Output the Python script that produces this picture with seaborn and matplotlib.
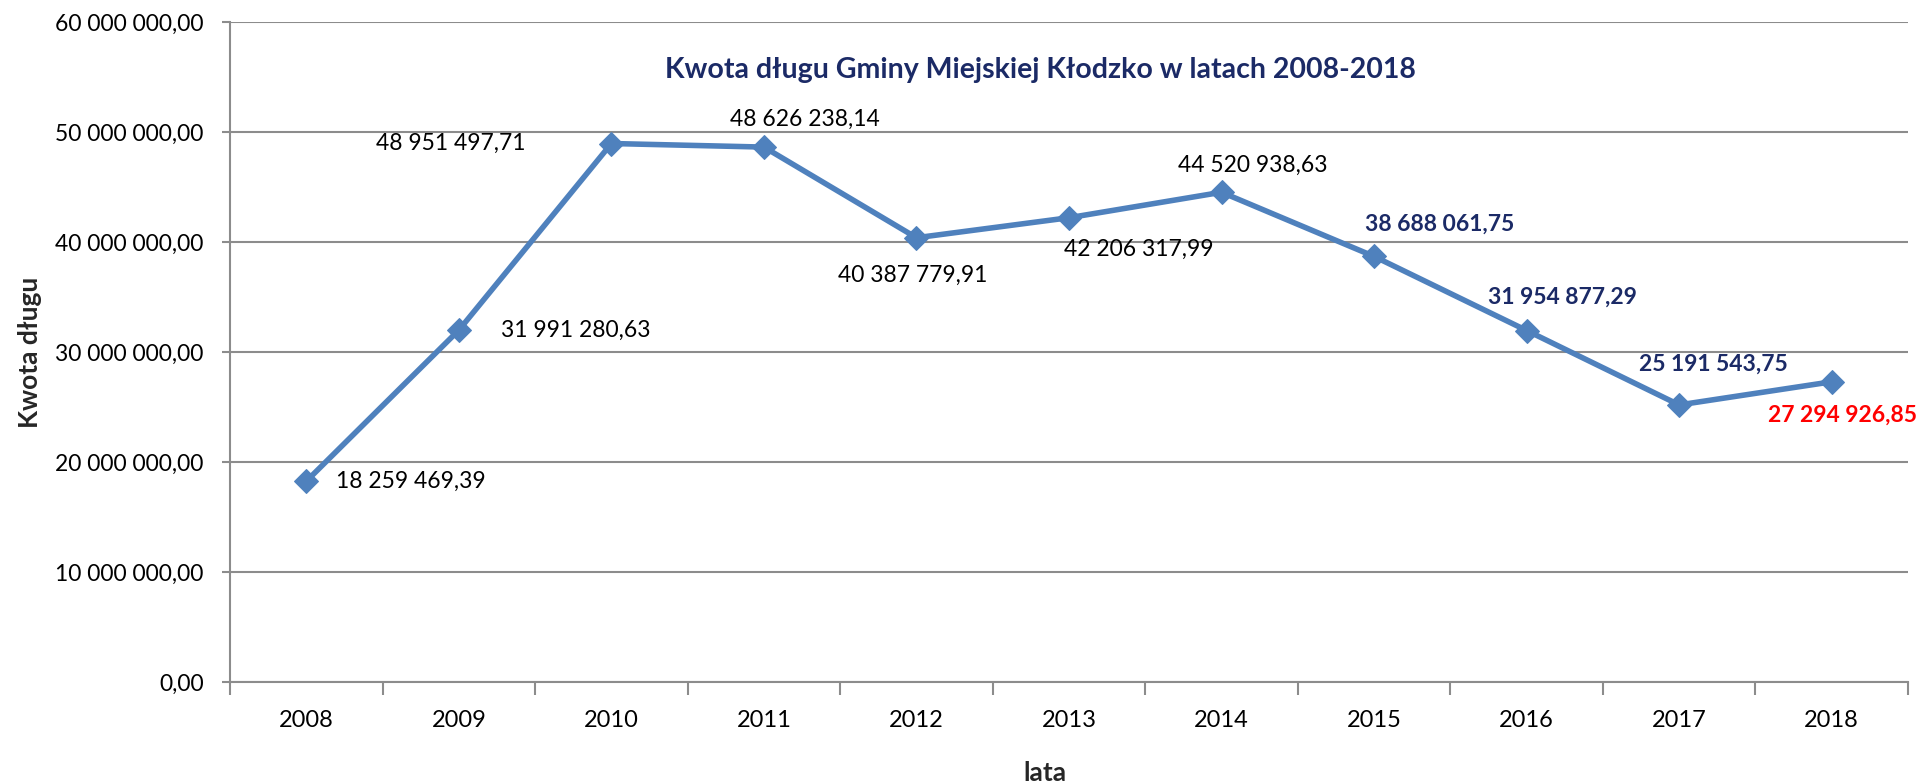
import pandas as pd
import matplotlib
matplotlib.use('Agg')
import matplotlib.pyplot as plt
from matplotlib.ticker import FuncFormatter, MultipleLocator
import seaborn as sns

# dane
lata = ['2008', '2009', '2010', '2011', '2012', '2013', '2014', '2015', '2016', '2017', '2018']
kwota = [18259469.39, 31991280.63, 48951497.71, 48626238.14, 40387779.91, 42206317.99,
         44520938.63, 38688061.75, 31954877.29, 25191543.75, 27294926.85]

# styl etykiet danych: 0 = zwykla, 1 = pogrubiona granatowa, 2 = pogrubiona czerwona
styl_etykiet = [0, 0, 0, 0, 0, 0, 0, 1, 1, 1, 2]

sns.set_theme(style='white')
plt.rcParams['font.family'] = ['Lato', 'DejaVu Sans']

NAVY = '#1b2a66'
BLUE = '#4f81bd'
GRID = '#8c8c8c'


def fmt_pl(v, pos=None):
    s = f'{v:,.2f}'
    return s.replace(',', ' ').replace('.', ',')


df = pd.DataFrame({'rok': lata, 'kwota': kwota})

fig = plt.figure(figsize=(19.3, 7.84), dpi=100)
ax = fig.add_axes([0.1192, 0.130, 0.8694, 0.842])

sns.lineplot(data=df, x='rok', y='kwota', ax=ax, color=BLUE, linewidth=4,
             marker='D', markersize=12, markeredgecolor=BLUE, markerfacecolor=BLUE)

ax.set_xlim(-0.5, len(lata) - 0.5)
ax.set_ylim(0, 60000000)
ax.yaxis.set_major_locator(MultipleLocator(10000000))
ax.yaxis.set_major_formatter(FuncFormatter(fmt_pl))
ax.grid(axis='y', color=GRID, linewidth=1.5)
ax.set_axisbelow(True)

for side in ['top', 'right']:
    ax.spines[side].set_visible(False)
for side in ['left', 'bottom']:
    ax.spines[side].set_color(GRID)
    ax.spines[side].set_linewidth(1.5)

ax.tick_params(axis='y', which='major', left=True, length=6, width=1.5, color=GRID,
               pad=13, labelsize=16.5, labelcolor='black')
ax.tick_params(axis='x', which='major', bottom=False, length=0, pad=20, labelsize=17,
               labelcolor='black')
ax.set_xticks(range(len(lata)))
ax.set_xticks([i - 0.5 for i in range(len(lata) + 1)], minor=True)
ax.tick_params(axis='x', which='minor', bottom=True, length=9, width=1.5, color=GRID)

# etykiety danych (przesuniecia w pikselach)
przesuniecia = [(30, 0, 'left'), (42, 0, 'left'), (-86, 0, 'right'), (41, 28, 'center'),
                (-4, -38, 'center'), (70, -32, 'center'), (31, 27, 'center'),
                (66, 32, 'center'), (36, 33, 'center'), (34, 41, 'center'), (11, -33, 'center')]
kolory = {0: 'black', 1: NAVY, 2: 'red'}
for i, (v, st) in enumerate(zip(kwota, styl_etykiet)):
    dx, dy, ha = przesuniecia[i]
    ax.annotate(fmt_pl(v), xy=(i, v), xytext=(dx, dy), textcoords='offset pixels',
                ha=ha, va='center', fontsize=16.5, color=kolory[st],
                fontweight='bold' if st else 'normal')

ax.text(0.483, 0.927, 'Kwota długu Gminy Miejskiej Kłodzko w latach 2008-2018',
        transform=ax.transAxes, ha='center', va='center', fontsize=20.5,
        fontweight='bold', color=NAVY)

ax.set_xlabel('lata', fontsize=19, fontweight='bold')
ax.xaxis.label.set_va('center')
ax.xaxis.set_label_coords(0.4855, -0.138)
ax.set_ylabel('Kwota długu', fontsize=19, fontweight='bold')
ax.yaxis.label.set_va('center')
ax.yaxis.set_label_coords(-0.1195, 0.5)

fig.savefig('out.png', dpi=100)
